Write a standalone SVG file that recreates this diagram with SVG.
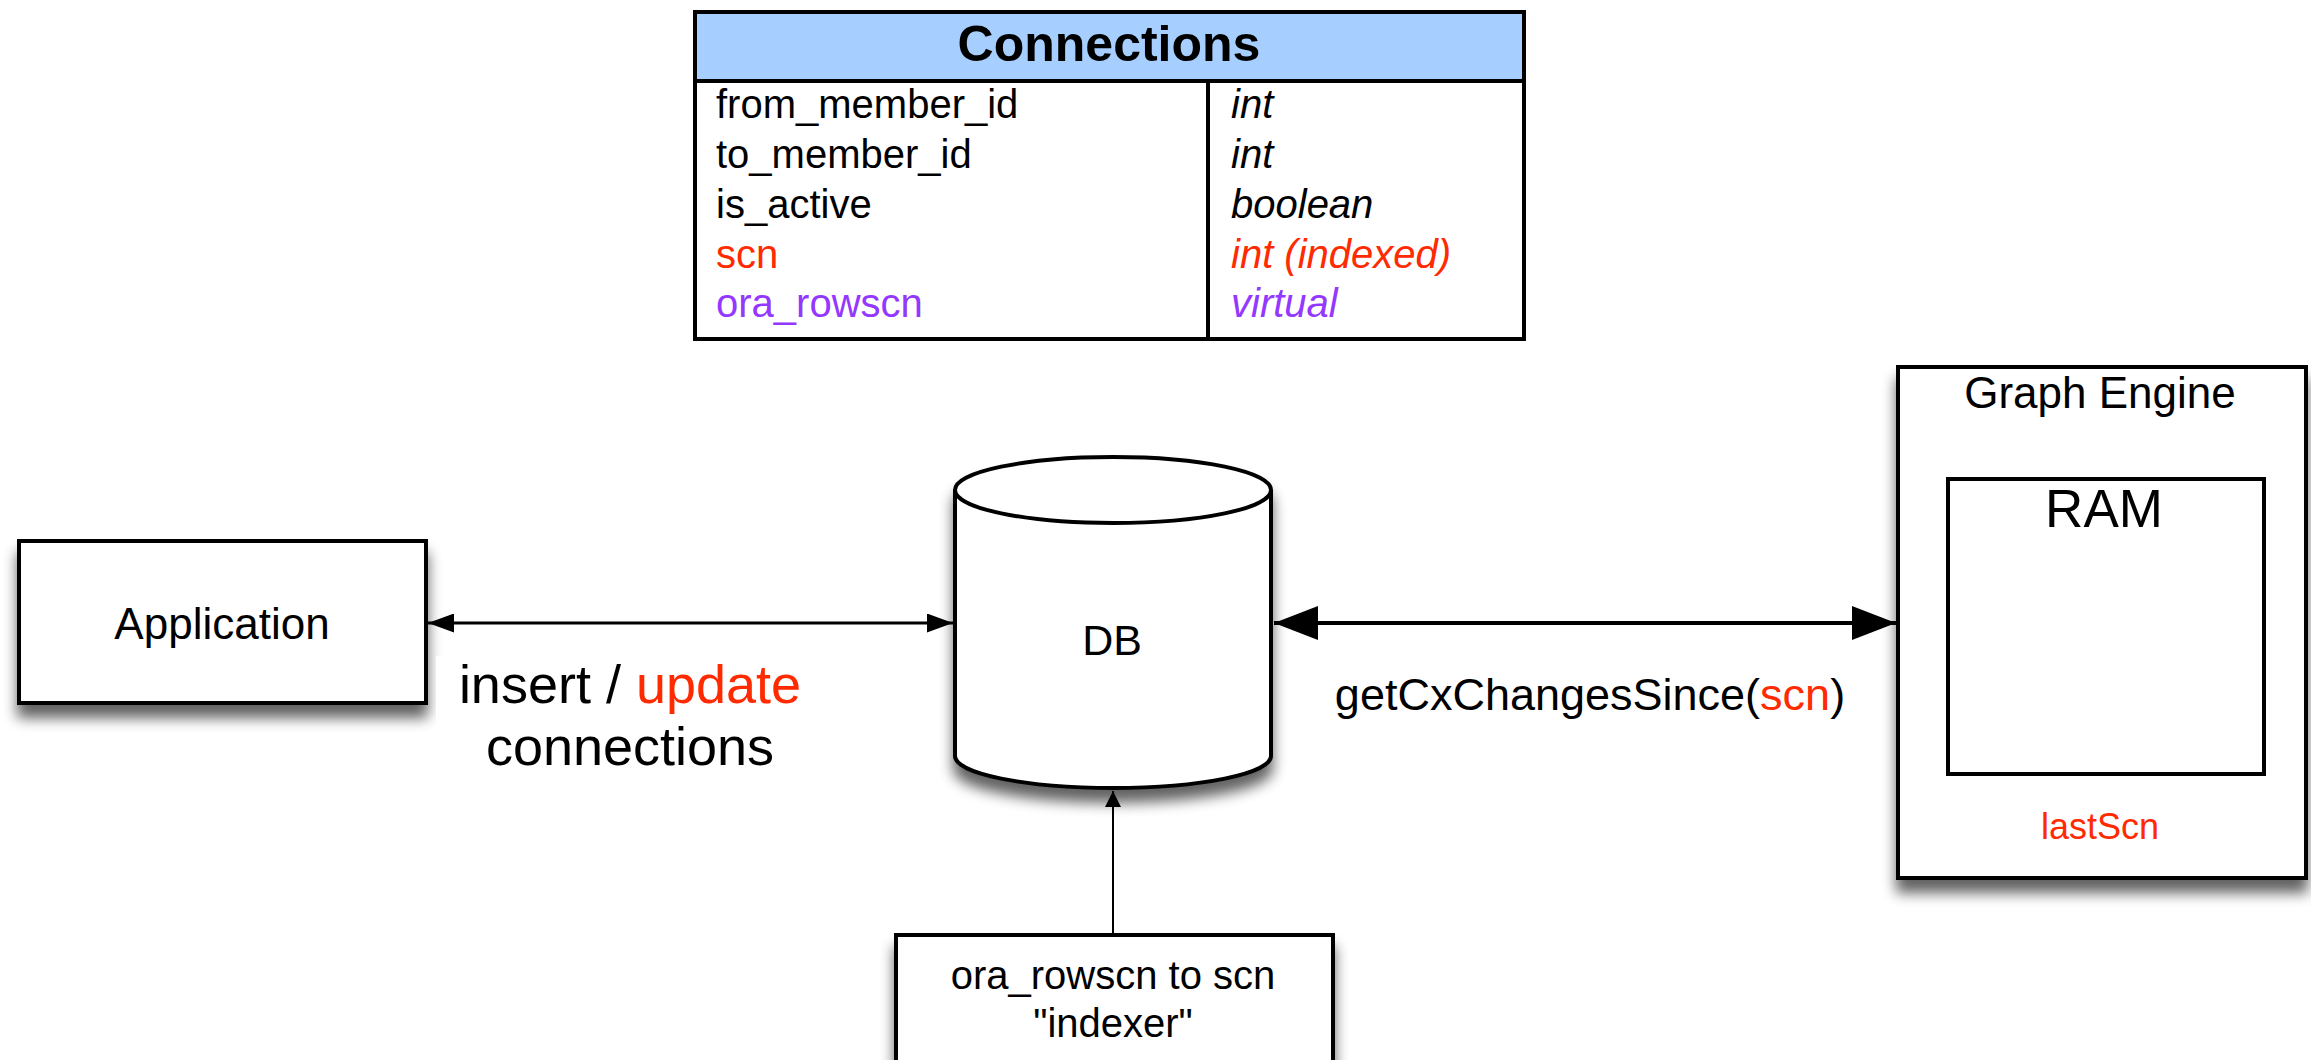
<svg xmlns="http://www.w3.org/2000/svg" width="2311" height="1060" viewBox="0 0 2311 1060">
  <style>
    .t { font-family: "Liberation Sans", Arial, Helvetica, sans-serif; fill: #000; }
    .box { fill: #fff; stroke: #000; stroke-width: 4; }
    .red { fill: #ff2a00; }
    .purple { fill: #9437ff; }
    .it { font-style: italic; }
    .line { stroke: #000; fill: none; }
  </style>
  <defs>
    <filter id="shadow" x="-20%" y="-20%" width="140%" height="160%">
      <feGaussianBlur in="SourceAlpha" stdDeviation="7"/>
      <feOffset dx="0" dy="13"/>
      <feComponentTransfer><feFuncA type="linear" slope="0.62"/></feComponentTransfer>
      <feMerge><feMergeNode/><feMergeNode in="SourceGraphic"/></feMerge>
    </filter>
    <marker id="arrSmall" viewBox="0 0 26 19" refX="26" refY="9.5" markerWidth="26" markerHeight="19" markerUnits="userSpaceOnUse" orient="auto-start-reverse">
      <path d="M0,0 L26,9.5 L0,19 Z" fill="#000"/>
    </marker>
    <marker id="arrLarge" viewBox="0 0 44 34" refX="44" refY="17" markerWidth="44" markerHeight="34" markerUnits="userSpaceOnUse" orient="auto-start-reverse">
      <path d="M0,0 L44,17 L0,34 Z" fill="#000"/>
    </marker>
    <marker id="arrThin" viewBox="0 0 16 21" refX="16" refY="8" markerWidth="16" markerHeight="21" markerUnits="userSpaceOnUse" orient="auto">
      <path d="M0,0 L16,8 L0,16 Z" fill="#000"/>
    </marker>
  </defs>

  <rect width="2311" height="1060" fill="#fff"/>

  <!-- Connections table -->
  <g id="connections-table">
    <rect x="695" y="12" width="829" height="69" fill="#a6cfff"/>
    <rect x="695" y="12" width="829" height="327" fill="none" stroke="#000" stroke-width="4"/>
    <line x1="695" y1="81" x2="1524" y2="81" stroke="#000" stroke-width="4"/>
    <line x1="1208" y1="81" x2="1208" y2="339" stroke="#000" stroke-width="4"/>
    <text class="t" x="1109" y="61" font-size="50" font-weight="bold" text-anchor="middle">Connections</text>
    <g font-size="40">
      <text class="t" x="716" y="118">from_member_id</text>
      <text class="t" x="716" y="168">to_member_id</text>
      <text class="t" x="716" y="218">is_active</text>
      <text class="t red" x="716" y="268">scn</text>
      <text class="t purple" x="716" y="317">ora_rowscn</text>
      <text class="t it" x="1231" y="118">int</text>
      <text class="t it" x="1231" y="168">int</text>
      <text class="t it" x="1231" y="218">boolean</text>
      <text class="t it red" x="1231" y="268">int (indexed)</text>
      <text class="t it purple" x="1231" y="317">virtual</text>
    </g>
  </g>

  <!-- Application -->
  <g id="application">
    <rect class="box" x="19" y="541" width="407" height="162" filter="url(#shadow)"/>
    <text class="t" x="222" y="639" font-size="44" text-anchor="middle">Application</text>
  </g>

  <!-- DB cylinder -->
  <g id="db">
    <path class="box" d="M955,490 A158,33 0 0,1 1271,490 L1271,756 A158,32 0 0,1 955,756 Z" filter="url(#shadow)"/>
    <path class="line" stroke-width="4" d="M955,490 A158,33 0 0,0 1271,490"/>
    <text class="t" x="1112" y="655" font-size="43" text-anchor="middle">DB</text>
  </g>

  <!-- Indexer -->
  <g id="indexer">
    <rect class="box" x="896" y="935" width="437" height="150" filter="url(#shadow)"/>
    <text class="t" x="1113" y="989" font-size="40" text-anchor="middle">ora_rowscn to scn</text>
    <text class="t" x="1113" y="1037" font-size="40" text-anchor="middle">"indexer"</text>
  </g>

  <!-- Graph Engine with RAM -->
  <g id="graph-engine">
    <rect class="box" x="1898" y="367" width="408" height="511" filter="url(#shadow)"/>
    <text class="t" x="2100" y="408" font-size="44" text-anchor="middle">Graph Engine</text>
    <rect class="box" x="1948" y="479" width="316" height="295"/>
    <text class="t" x="2104" y="527" font-size="53" text-anchor="middle">RAM</text>
    <text class="t red" x="2100" y="839" font-size="36" text-anchor="middle">lastScn</text>
  </g>

  <!-- Connectors -->
  <g id="connectors">
    <line class="line" x1="428" y1="623" x2="953" y2="623" stroke-width="3" marker-start="url(#arrSmall)" marker-end="url(#arrSmall)"/>
    <line class="line" x1="1274" y1="623" x2="1896" y2="623" stroke-width="4" marker-start="url(#arrLarge)" marker-end="url(#arrLarge)"/>
    <line class="line" x1="1113" y1="935" x2="1113" y2="791" stroke-width="2" marker-end="url(#arrThin)"/>

    <rect x="436" y="656" width="388" height="132" fill="#fff"/>
    <text class="t" x="630" y="703" font-size="54" text-anchor="middle">insert / <tspan class="red">update</tspan></text>
    <text class="t" x="630" y="765" font-size="54" text-anchor="middle">connections</text>

    <text class="t" x="1590" y="710" font-size="45" text-anchor="middle">getCxChangesSince(<tspan class="red">scn</tspan>)</text>
  </g>
</svg>
